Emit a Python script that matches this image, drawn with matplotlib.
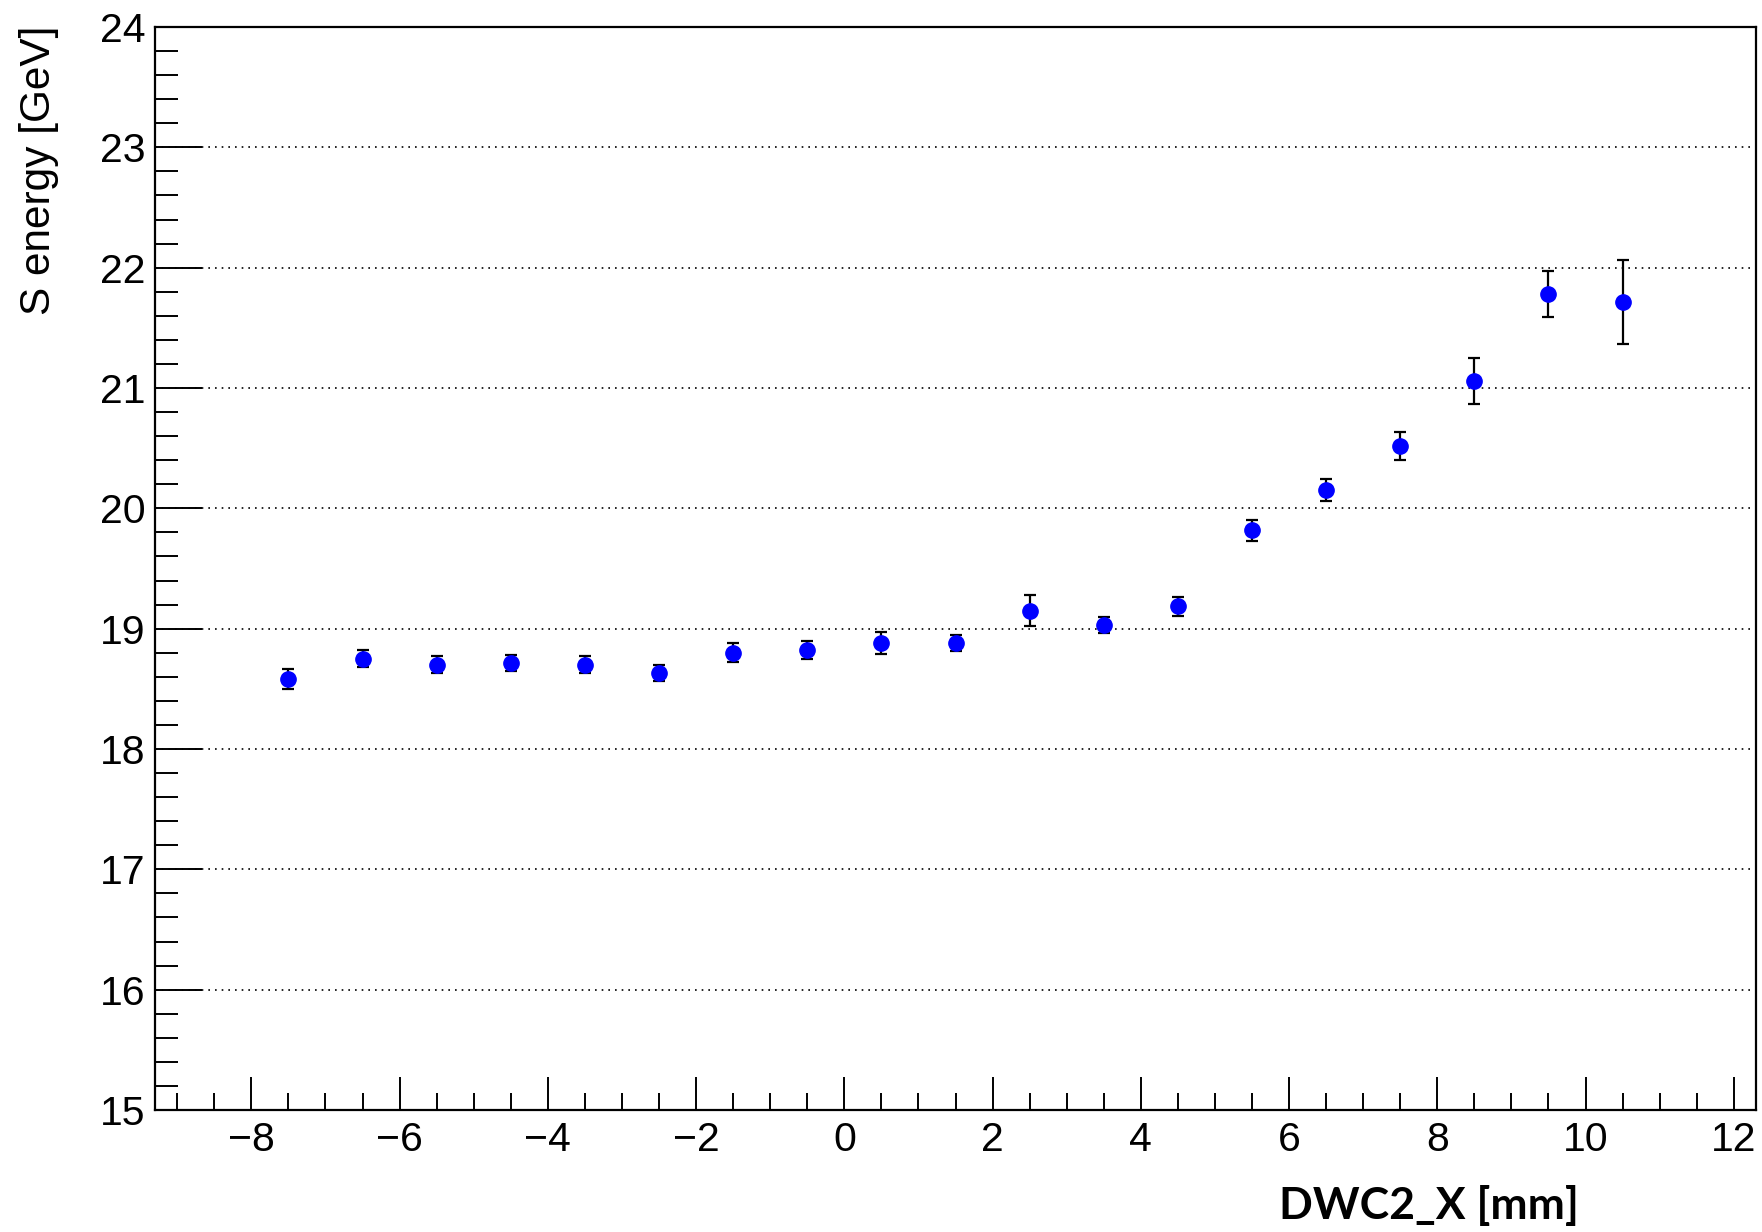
import matplotlib
matplotlib.use('Agg')
import matplotlib.pyplot as plt
from matplotlib.ticker import MultipleLocator

# DWC2_X bin centres [mm] and mean S energy [GeV]
x_mm = [-7.5, -6.5, -5.5, -4.5, -3.5, -2.5, -1.5, -0.5, 0.5, 1.5,
        2.5, 3.5, 4.5, 5.5, 6.5, 7.5, 8.5, 9.5, 10.5]
s_energy = [18.58, 18.75, 18.70, 18.715, 18.70, 18.63, 18.80, 18.82, 18.88, 18.88,
            19.15, 19.03, 19.185, 19.817, 20.15, 20.518, 21.06, 21.78, 21.714]
s_err = [0.083, 0.07, 0.07, 0.07, 0.07, 0.065, 0.08, 0.076, 0.094, 0.065,
         0.127, 0.066, 0.078, 0.085, 0.09, 0.118, 0.19, 0.19, 0.35]

y_ticks = [15, 16, 17, 18, 19, 20, 21, 22, 23, 24]
x_ticks = [-8, -6, -4, -2, 0, 2, 4, 6, 8, 10, 12]

plt.rcParams['font.family'] = ['Liberation Sans', 'DejaVu Sans']

fig = plt.figure(figsize=(17.62, 12.32), dpi=100)
ax = fig.add_axes([155/1762, 1 - 1110/1232, (1756 - 155)/1762, (1110 - 27)/1232])

ax.errorbar(x_mm, s_energy, yerr=s_err, fmt='o', color='#0000ff', ms=11,
            ecolor='black', elinewidth=1.6, capsize=4, capthick=1.6, zorder=3)

ax.set_xlim(-9.3, 12.3)
ax.set_ylim(15, 24)
ax.set_xticks(x_ticks)
ax.set_yticks(y_ticks)
ax.xaxis.set_minor_locator(MultipleLocator(0.5))
ax.yaxis.set_minor_locator(MultipleLocator(0.2))

ax.tick_params(axis='both', which='both', direction='in', labelsize=29.5,
               width=1.4, top=False, right=False)
ax.tick_params(axis='x', which='major', length=24, pad=8)
ax.tick_params(axis='x', which='minor', length=12)
ax.tick_params(axis='y', which='major', length=34, pad=7)
ax.tick_params(axis='y', which='minor', length=16.5)

ax.grid(axis='y', which='major', linestyle=(0, (1, 3)), color='black', linewidth=1.2)
for sp in ax.spines.values():
    sp.set_linewidth(1.6)

fig.text(39/1762, 1 - 26/1232, 'S energy [GeV]', rotation=90, ha='center', va='top',
         fontsize=30.5)
fig.text(1429/1762, 1 - 1205/1232, 'DWC2_X [mm]', ha='center', va='center',
         fontsize=32, fontweight='bold', family=['Lato', 'DejaVu Sans'])

fig.savefig('out.png', dpi=100)
